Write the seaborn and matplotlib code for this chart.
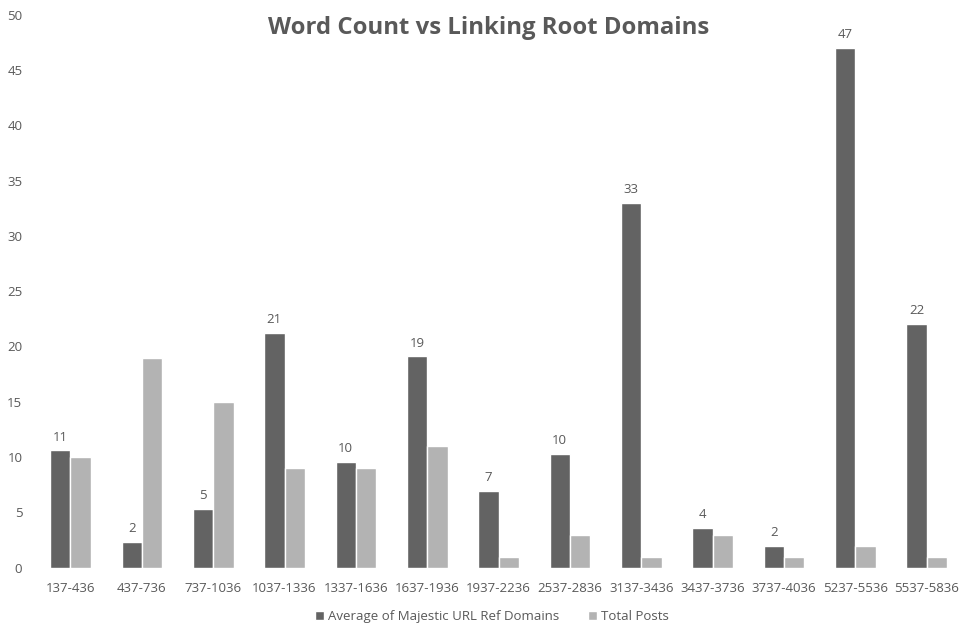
import numpy as np
import pandas as pd
import matplotlib
matplotlib.use("Agg")
import matplotlib.pyplot as plt
import seaborn as sns

# ---- data ----
word_ranges = [
    "137-436", "437-736", "737-1036", "1037-1336", "1337-1636",
    "1637-1936", "1937-2236", "2537-2836", "3137-3436", "3437-3736",
    "3737-4036", "5237-5536", "5537-5836",
]
avg_ref_domains = [10.6, 2.35, 5.3, 21.2, 9.6, 19.1, 6.9, 10.3, 33.0, 3.6, 2.0, 47.0, 22.0]
total_posts = [10, 19, 15, 9, 9, 11, 1, 3, 1, 3, 1, 2, 1]

series_names = ["Average of Majestic URL Ref Domains", "Total Posts"]
colors = ["#636363", "#B3B3B3"]
text_color = "#595959"

df = pd.DataFrame({
    "Range": word_ranges * 2,
    "Value": avg_ref_domains + total_posts,
    "Series": [series_names[0]] * len(word_ranges) + [series_names[1]] * len(word_ranges),
})

sns.set_theme(style="white")
plt.rcParams["font.family"] = ["Open Sans", "DejaVu Sans"]

fig = plt.figure(figsize=(9.78, 6.39), dpi=100)
ax = fig.add_axes([0.0356, 0.1116, 0.9484, 0.8654])

sns.barplot(data=df, x="Range", y="Value", hue="Series", palette=colors,
            width=0.57, gap=0, saturation=1, ax=ax, legend=True)

# data labels on the dark series only
ax.bar_label(ax.containers[0], fmt="%.0f", padding=5, fontsize=9.5, color=text_color)

ax.set_ylim(0, 50)
ax.set_yticks(np.arange(0, 51, 5))
ax.set_xlabel("")
ax.set_ylabel("")
ax.tick_params(axis="y", length=0, pad=9, labelsize=9.5, labelcolor=text_color)
ax.tick_params(axis="x", length=0, pad=10, labelsize=9.5, labelcolor=text_color)
sns.despine(ax=ax, left=True, bottom=True, top=True, right=True)

fig.suptitle("Word Count vs Linking Root Domains", x=0.5, y=0.956, va="center",
             fontsize=17.2, fontweight="bold", color="#595959")

ax.legend(loc="center", bbox_to_anchor=(0.4927, -0.089), ncol=2, frameon=False,
          fontsize=9.5, labelcolor=text_color, handlelength=0.7, handleheight=0.7,
          handletextpad=0.3, columnspacing=2.2)

fig.savefig("out.png", dpi=100)
